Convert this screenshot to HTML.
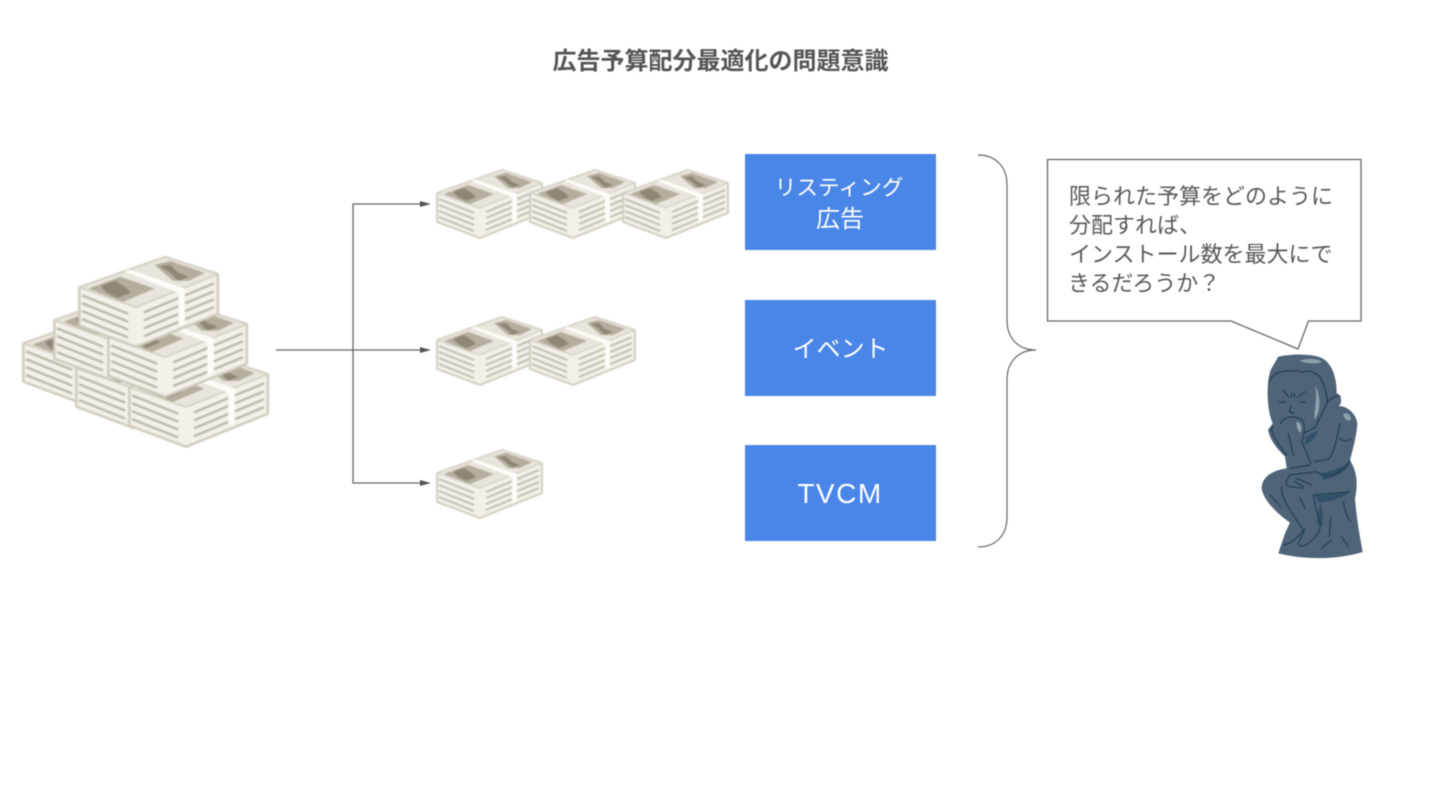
<!DOCTYPE html>
<html lang="ja"><head><meta charset="utf-8"><title>広告予算配分最適化の問題意識</title>
<style>
html,body{margin:0;padding:0;background:#fff;width:1440px;height:810px;overflow:hidden}
svg{display:block;filter:blur(.5px)}
text{font-family:"Liberation Sans","Noto Sans CJK JP",sans-serif}
.b{filter:blur(.6px)}
</style></head><body>
<svg width="1440" height="810" viewBox="0 0 1440 810" xmlns="http://www.w3.org/2000/svg">
<defs>
<g id="s">
  <path d="M1 23L66 0L106 13L106 43L44 68L1 52Z" fill="#f3f0ea" stroke="#cfcabc" stroke-width="1.800" stroke-linejoin="round"/>
  <path d="M1 23L66 0L106 13L44 38Z" fill="#e9e5dc" stroke="#d3cec1" stroke-width="1.200" stroke-linejoin="round"/>
  <path d="M8 24L32 15L58 24L34 34Z M58 6L70 3L96 12L84 18L72 18Z" fill="#b5ad9d"/>
  <path d="M17 22L28 18L36 23L40 27L30 31L22 27Z M62 7L70 6L76 12L84 15L76 18L70 12Z" fill="#8f8776"/>
  <g fill="none" stroke="#bab4a3" stroke-width="1.700">
    <path d="M3 29L38 43M3 35L38 49M3 41L38 55M3 47L38 61"/>
    <path d="M50 42L103 20M50 48L103 26M50 54L103 32M50 60L103 38"/>
  </g>
  <path d="M35 11L39 9.500L81 24L81 50.500L76 52.500L76 27Z" fill="#fdfcf9"/>
</g>
</defs>

<text x="720.500" y="69" text-anchor="middle" font-size="24" font-weight="700" fill="#555">広告予算配分最適化の問題意識</text>

<!-- big pile -->
<g class="b">
<g transform="translate(22,313) scale(1.32)"><use href="#s"/></g>
<g transform="translate(75,338) scale(1.32)"><use href="#s"/></g>
<g transform="translate(53,290) scale(1.32)"><use href="#s"/></g>
<g transform="translate(128,357) scale(1.32)"><use href="#s"/></g>
<g transform="translate(107,307) scale(1.32)"><use href="#s"/></g>
<g transform="translate(78,257) scale(1.32)"><use href="#s"/></g>
</g>

<!-- connectors -->
<g fill="none" stroke="#666" stroke-width="1.300">
  <path d="M276 350H421M353 483V204H421M353 350V483H421"/>
</g>
<g fill="#555">
  <path d="M420 201L431 204L420 207Z M420 347L431 350L420 353Z M420 480L431 483L420 486Z"/>
</g>

<!-- small piles -->
<g class="b">
<use href="#s" x="436" y="170"/>
<use href="#s" x="529" y="170"/>
<use href="#s" x="622" y="170"/>
<use href="#s" x="436" y="317"/>
<use href="#s" x="529" y="317"/>
<use href="#s" x="436" y="450"/>
</g>

<!-- boxes -->
<rect x="745" y="154" width="191" height="96" fill="#4a86e8"/>
<rect x="745" y="300" width="191" height="96" fill="#4a86e8"/>
<rect x="745" y="445" width="191" height="96" fill="#4a86e8"/>
<g fill="#fff" text-anchor="middle" font-size="22">
  <text x="839" y="195" font-size="21.700">リスティング</text>
  <text x="840" y="227" font-size="24">広告</text>
  <text x="840.500" y="357" font-size="24">イベント</text>
  <text x="840" y="503" font-size="28" letter-spacing="1.500">TVCM</text>
</g>

<!-- brace -->
<path d="M978 155C996 155 1007 167 1007 185V320C1007 338 1018 350 1036 350C1018 350 1007 362 1007 380V517C1007 535 996 547 978 547" fill="none" stroke="#666" stroke-width="1.200"/>

<!-- callout -->
<path d="M1047.500 159.500H1361V321H1308.500L1298 349L1231 321H1047.500Z" fill="#fff" stroke="#666" stroke-width="1.300"/>
<g fill="#595959" font-size="22">
  <text x="1069" y="204">限られた予算をどのように</text>
  <text x="1069" y="233">分配すれば、</text>
  <text x="1069" y="262">インストール数を最大にで</text>
  <text x="1068" y="291">きるだろうか？</text>
</g>

<!-- thinker -->
<g class="b" transform="translate(1240,340) scale(.3333)">
  <path d="M115 50C160 40 230 40 255 60C285 85 290 130 290 160C305 165 308 190 296 198C325 198 350 225 352 250C350 290 335 340 330 362C350 390 355 430 345 475C350 540 360 590 368 636C290 660 190 660 115 640L135 580L150 548C110 520 70 480 65 445C65 415 90 392 140 385L135 350C110 325 90 300 84 270L98 250C80 210 78 130 92 90Z" fill="#4f6479"/>
  <path d="M178 62C200 55 235 55 245 65C240 72 195 72 178 62Z M225 135C240 160 245 210 225 238C218 225 235 175 225 135Z M310 222C325 215 335 230 332 240C322 245 310 235 310 222Z M170 245C185 248 188 265 180 278C172 270 168 255 170 245Z" fill="#8fa1ae"/>
  <path d="M195 295C210 280 225 275 235 272C225 295 210 310 195 315Z M240 400C270 395 300 385 330 365C325 385 300 410 250 420Z M225 468C260 465 300 462 330 455C310 475 270 485 235 488Z M240 490C250 510 250 540 245 560L230 550Z" fill="#33506a"/>
  <g fill="none" stroke="#1f3f52" stroke-width="3.500" stroke-linecap="round" stroke-linejoin="round">
    <path d="M88 125C105 90 125 100 135 92C150 98 170 85 185 98C205 85 225 100 240 110C250 130 262 165 262 185C275 175 295 160 300 170"/>
    <path d="M128 150L148 172M195 155L172 172M118 186H136M180 184L198 188M155 160V172M163 160V172M153 200L148 215L160 220"/>
    <path d="M122 252C130 225 175 225 190 245C195 265 192 290 185 305L213 370M100 258C90 265 92 285 140 345M145 280L160 345M265 182L225 262L195 278"/>
    <path d="M300 295C310 305 322 305 333 295M300 250C290 300 280 345 265 358L222 365M150 385L210 375M330 362C310 400 260 420 230 395L150 405C135 425 135 435 150 440M165 425L190 440M170 415L215 435"/>
    <path d="M125 440C120 470 150 510 190 570C170 600 150 610 130 615M150 440L190 445M90 465L122 500M180 475L195 505"/>
    <path d="M220 465C225 490 232 530 240 548C245 575 220 605 190 618C175 620 170 612 180 600L195 565M222 465L330 455M310 485C315 510 320 530 332 545M272 530L268 590M305 590L325 620M275 600L245 625"/>
  </g>
</g>
</svg>
</body></html>
